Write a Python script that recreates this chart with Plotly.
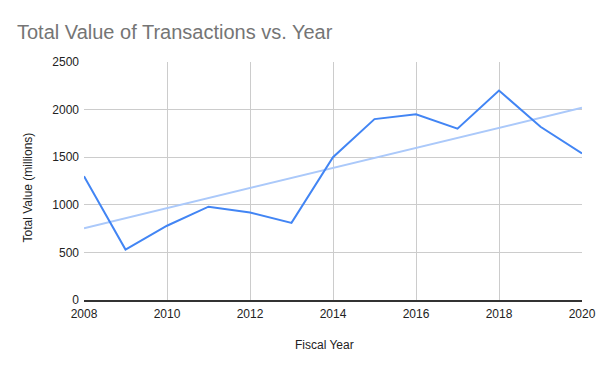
import numpy as np
import plotly.graph_objects as go

years = [2008, 2009, 2010, 2011, 2012, 2013, 2014, 2015, 2016, 2017, 2018, 2019, 2020]
total_value = [1300, 530, 780, 980, 920, 810, 1500, 1900, 1950, 1800, 2200, 1820, 1540]
x_ticks = [2008, 2010, 2012, 2014, 2016, 2018, 2020]
y_ticks = [0, 500, 1000, 1500, 2000, 2500]

# linear trendline fitted to the data
slope, intercept = np.polyfit(years, total_value, 1)
trend_x = [years[0], years[-1]]
trend_y = [slope * x + intercept for x in trend_x]

fig = go.Figure()
fig.add_trace(go.Scatter(x=trend_x, y=trend_y, mode="lines",
                         line=dict(color="#abc9fa", width=2), hoverinfo="skip"))
fig.add_trace(go.Scatter(x=years, y=total_value, mode="lines",
                         line=dict(color="#4285f4", width=2)))

font = "Liberation Sans, Arial, sans-serif"
L, R, T, B = 84, 582, 62, 300
W, H = R - L, B - T
fig.update_layout(
    width=600, height=371,
    margin=dict(l=L, r=600 - R, t=T, b=371 - B, autoexpand=False),
    paper_bgcolor="white", plot_bgcolor="white",
    showlegend=False,
    font=dict(family=font, size=12, color="#222222"),
    title=dict(text="Total Value of Transactions vs. Year",
               font=dict(family=font, size=20, color="#757575"),
               x=17/600, xref="container", xanchor="left",
               y=1-32/371, yref="container", yanchor="middle"),
    xaxis=dict(range=[2008, 2020], tickvals=x_ticks, ticktext=[str(t) for t in x_ticks],
               automargin=False,
               showgrid=True, gridcolor="#cccccc", gridwidth=1,
               showline=True, linecolor="#333333", linewidth=1.5,
               zeroline=False, ticks="", ticklabelstandoff=2,
               tickfont=dict(size=12, color="#222222")),
    yaxis=dict(range=[0, 2500], tickvals=y_ticks, automargin=False,
               showgrid=True, gridcolor="#cccccc", gridwidth=1,
               showline=False, zeroline=False, ticks="", ticklabelstandoff=4,
               tickfont=dict(size=12, color="#222222")),
    annotations=[
        dict(text="Fiscal Year", xref="paper", yref="paper",
             x=(324.5 - L) / W, y=(B - 345) / H, xanchor="center", yanchor="middle",
             showarrow=False, font=dict(size=12, color="#222222")),
        dict(text="Total Value (millions)", xref="paper", yref="paper",
             x=(27.5 - L) / W, y=(B - 188) / H, xanchor="center", yanchor="middle",
             textangle=-90, showarrow=False, font=dict(size=12, color="#222222")),
    ],
)
fig.write_html("out.html", config={"displayModeBar": False},
               post_script="document.body.style.margin='0';document.body.style.overflow='hidden';")
